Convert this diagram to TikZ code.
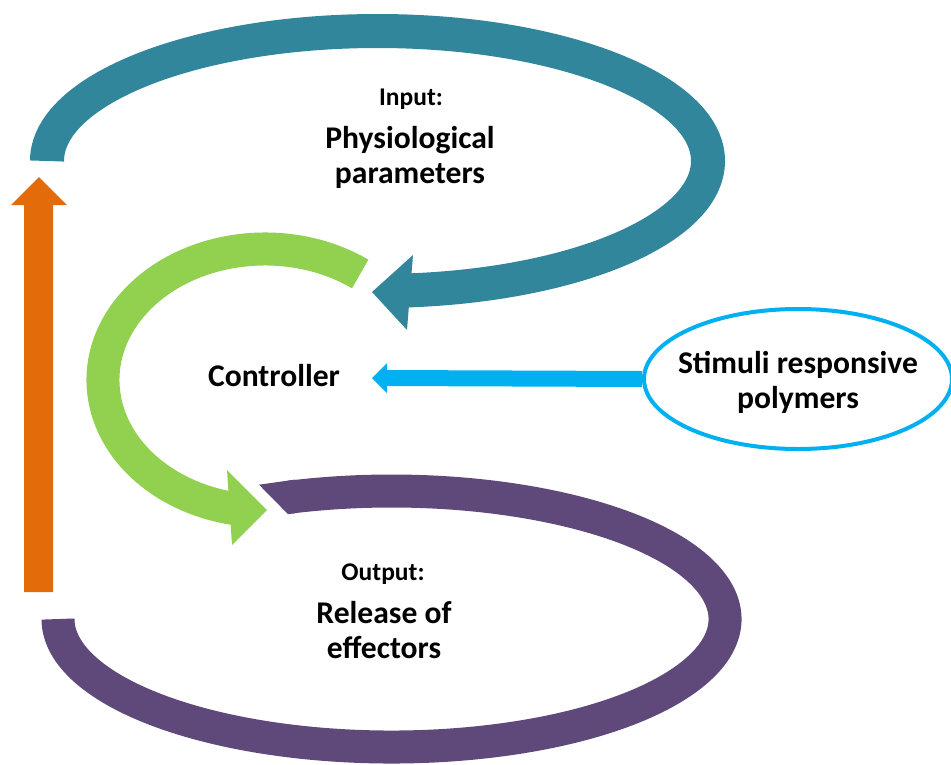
\documentclass[tikz,border=0pt]{standalone}
\usepackage{fontspec}
\setmainfont{Carlito}
\usetikzlibrary{shapes.geometric}
\definecolor{cteal}{RGB}{49,134,155}
\definecolor{cgreen}{RGB}{146,208,80}
\definecolor{cpurple}{RGB}{95,73,122}
\definecolor{corange}{RGB}{227,108,10}
\definecolor{ccyan}{RGB}{0,176,240}
\tikzset{
  band/.style={line width=34pt, line cap=butt},
  small/.style={font=\fontsize{25.5}{30}\selectfont\bfseries, inner sep=0pt},
  big/.style={font=\fontsize{31.6}{35}\selectfont\bfseries, align=center, inner sep=0pt},
}
\begin{document}
\begin{tikzpicture}[x=1pt,y=-1pt]
\useasboundingbox (0,0) rectangle (951,764);
% teal loop (input)
\draw[band, cteal] (47,161) arc[start angle=180, end angle=445.5, x radius=330.5, y radius=130];
\fill[cteal] (413,255) -- (372,292) -- (407,330) -- cycle;
% green loop (controller)
\draw[band, cgreen, line width=33pt] (360.2,274) arc[start angle=306, end angle=100, x radius=162, y radius=131];
\fill[cgreen] (227,470) -- (267,510) -- (232,545) -- cycle;
% purple loop (output)
\draw[band, cpurple, line width=33pt] (290.1,497.1) arc[start angle=252.3, end angle=540, x radius=333.5, y radius=128];
\fill[cpurple] (259,484.7) -- (295,479.6) -- (295,513.3) -- (288,514.1) -- cycle;
% orange arrow
\fill[corange] (24,592) -- (24,205) -- (11,205) -- (39,177) -- (67,205) -- (53,205) -- (53,592) -- cycle;
% stimuli ellipse and cyan arrow
\coordinate (ctail) at (386,378);
\node[ellipse, draw=ccyan, line width=4pt, fill=white, minimum width=308pt, minimum height=140pt, inner sep=0pt] (stim) at (798,379) {};
\node[big, anchor=base] (stimtext) at (798,408) {Stimuli responsive\\polymers};
\draw[ccyan, line width=16pt] (stim.west) -- (ctail);
\fill[ccyan] (387,363) -- (372,378) -- (387,393) -- cycle;
% labels
\node[small, anchor=base] (inp) at (411,105) {Input:};
\node[big, anchor=base] (phys) at (410,183) {Physiological\\parameters};
\node[big, anchor=base] (ctrl) at (274,386) {Controller};
\node[small, anchor=base] (outp) at (383,580) {Output:};
\node[big, anchor=base] (rel) at (384,658) {Release of\\effectors};
\end{tikzpicture}
\end{document}
